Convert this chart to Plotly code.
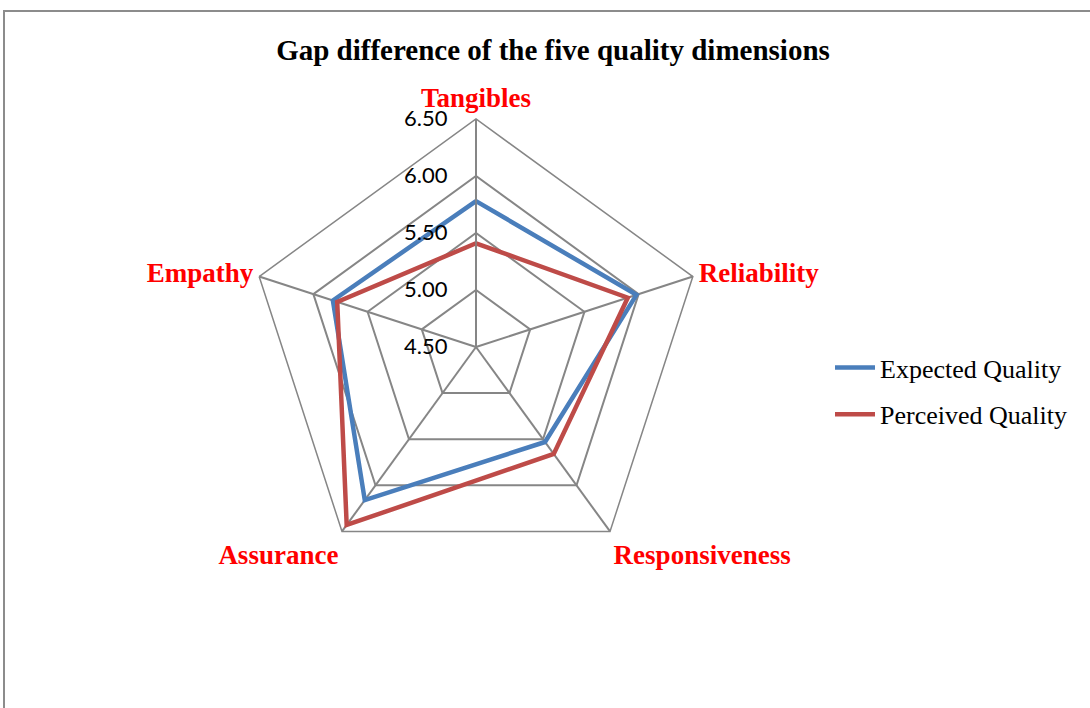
import plotly.graph_objects as go

# Données
categories = ["Tangibles", "Reliability", "Responsiveness", "Assurance", "Empathy"]
expected_quality = [5.78, 5.98, 5.53, 6.16, 5.82]
perceived_quality = [5.41, 5.90, 5.66, 6.43, 5.78]
radial_ticks = [4.5, 5.0, 5.5, 6.0, 6.5]
radial_labels = ["4.50", "5.00", "5.50", "6.00", "6.50"]

COLORS = {
    "expected": "#4A7EBB",
    "perceived": "#BE4B48",
    "grid": "#868686",
    "label": "#FF0000",
    "text": "#000000",
}

W, H = 1090, 708

fig = go.Figure()

for name, values, color, grp in [
    ("Expected Quality", expected_quality, COLORS["expected"], "a"),
    ("Perceived Quality", perceived_quality, COLORS["perceived"], "b"),
]:
    fig.add_trace(go.Scatterpolar(
        r=values + [values[0]],
        theta=categories + [categories[0]],
        mode="lines",
        name=name,
        legendgroup=grp,
        line=dict(color=color, width=4.5),
    ))

# centre du radar (476, 347), rayon 228 px
cx, cy, rad = 476, 347, 228

fig.update_layout(
    width=W,
    height=H,
    paper_bgcolor="white",
    plot_bgcolor="white",
    margin=dict(l=0, r=0, t=0, b=0),
    title=dict(
        text="<b>Gap difference of the five quality dimensions</b>",
        x=553 / W, xanchor="center",
        y=1 - 50 / H, yanchor="middle",
        font=dict(family="Liberation Serif", size=29, color=COLORS["text"]),
    ),
    polar=dict(
        domain=dict(x=[(cx - rad) / W, (cx + rad) / W],
                    y=[1 - (cy + rad) / H, 1 - (cy - rad) / H]),
        gridshape="linear",
        bgcolor="white",
        radialaxis=dict(
            range=[4.5, 6.5],
            tickvals=radial_ticks,
            ticktext=radial_labels,
            angle=90,
            side="counterclockwise",
            tickangle=90,
            showline=True,
            linecolor=COLORS["grid"],
            linewidth=1.5,
            gridcolor=COLORS["grid"],
            gridwidth=1.5,
            # ticks invisibles pour écarter les libellés de l'axe
            ticks="outside",
            ticklen=20,
            tickcolor="rgba(0,0,0,0)",
            tickfont=dict(family="Lato", size=22, color=COLORS["text"]),
        ),
        angularaxis=dict(
            rotation=90,
            direction="clockwise",
            linecolor=COLORS["grid"],
            linewidth=1.5,
            gridcolor=COLORS["grid"],
            gridwidth=1.5,
            ticks="",
            tickfont=dict(family="Liberation Serif", size=27, color=COLORS["label"]),
            tickvals=categories,
            ticktext=[f"<b>{c}</b>" for c in categories],
        ),
    ),
    showlegend=True,
    legend=dict(
        x=830 / W, xanchor="left",
        y=1 - 391 / H, yanchor="middle",
        font=dict(family="Liberation Serif", size=26, color=COLORS["text"]),
        itemwidth=40,
        tracegroupgap=10,
        bgcolor="rgba(0,0,0,0)",
    ),
    shapes=[dict(
        type="rect", xref="paper", yref="paper",
        x0=4 / W, x1=1.02, y0=-0.02, y1=1 - 11 / H,
        line=dict(color="#8C8C8C", width=2),
    )],
)

# la page n'a pas de marge, pour que la figure commence en (0, 0)
fig.write_html("out.html", config={"displayModeBar": False},
               post_script="document.body.style.margin='0';")
